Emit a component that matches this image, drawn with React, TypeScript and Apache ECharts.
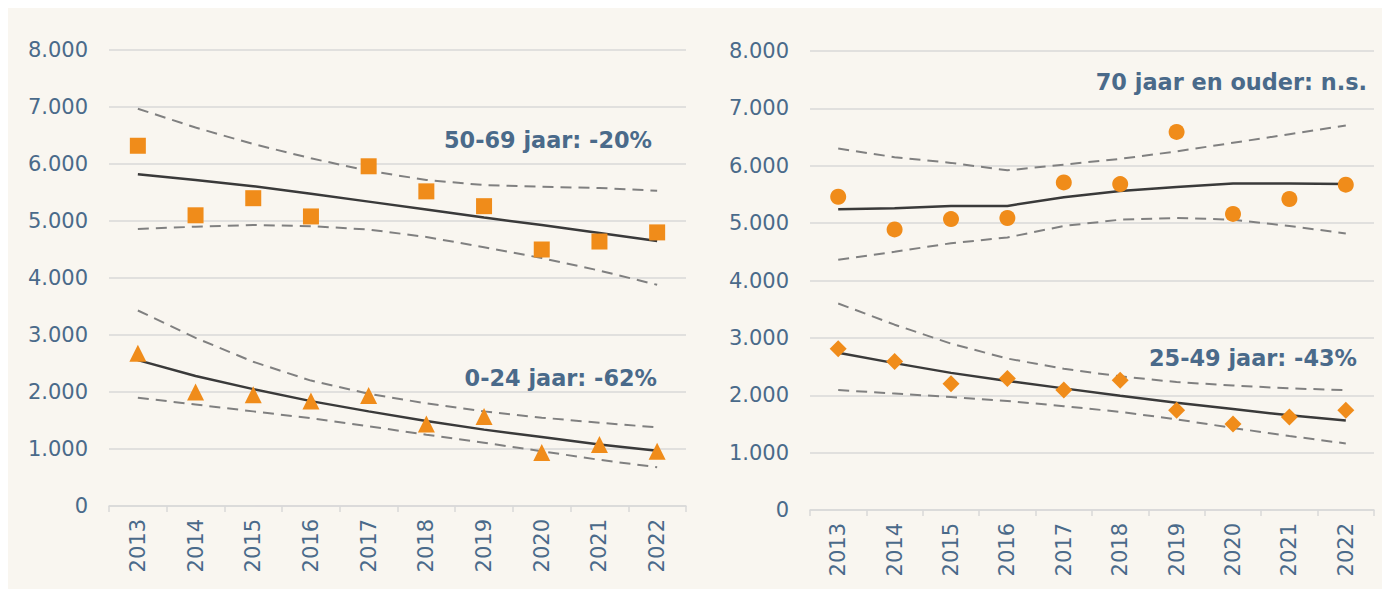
import React, { useEffect, useRef } from "react";
import * as echarts from "echarts";

const years = ["2013", "2014", "2015", "2016", "2017", "2018", "2019", "2020", "2021", "2022"];

// Left panel
const age5069 = [6320, 5100, 5400, 5080, 5960, 5520, 5260, 4500, 4640, 4800];
const age5069Trend = [5820, 5720, 5610, 5480, 5340, 5200, 5060, 4930, 4790, 4650];
const age5069Upper = [6970, 6640, 6350, 6100, 5880, 5720, 5630, 5600, 5580, 5530];
const age5069Lower = [4860, 4900, 4930, 4910, 4850, 4720, 4540, 4350, 4130, 3880];

const age024 = [2680, 2000, 1950, 1840, 1940, 1440, 1570, 940, 1080, 960];
const age024Trend = [2560, 2280, 2050, 1840, 1660, 1490, 1340, 1210, 1080, 970];
const age024Upper = [3430, 2950, 2530, 2200, 1970, 1800, 1660, 1550, 1460, 1380];
const age024Lower = [1900, 1780, 1660, 1540, 1400, 1250, 1110, 960, 810, 680];

// Right panel
const age70 = [5460, 4890, 5070, 5090, 5710, 5680, 6590, 5160, 5420, 5670];
const age70Trend = [5240, 5260, 5300, 5300, 5450, 5560, 5630, 5690, 5690, 5680];
const age70Upper = [6300, 6150, 6050, 5920, 6020, 6120, 6250, 6400, 6550, 6700];
const age70Lower = [4360, 4500, 4650, 4750, 4950, 5060, 5090, 5060, 4950, 4820];

const age2549 = [2810, 2590, 2200, 2290, 2090, 2260, 1740, 1500, 1620, 1740];
const age2549Trend = [2740, 2560, 2390, 2250, 2120, 1990, 1870, 1760, 1650, 1560];
const age2549Upper = [3600, 3230, 2900, 2640, 2460, 2330, 2230, 2170, 2120, 2090];
const age2549Lower = [2090, 2030, 1970, 1900, 1810, 1710, 1580, 1430, 1290, 1160];

const labels = [
  { text: "50-69 jaar: -20%", x: 644, y: 132 },
  { text: "0-24 jaar: -62%", x: 649, y: 370 },
  { text: "70 jaar en ouder: n.s.", x: 1359, y: 74 },
  { text: "25-49 jaar: -43%", x: 1349, y: 350 },
];

const FONT = "DejaVu Sans";
const TEXT = "#4a6a8a";
const ORANGE = "#f08c1a";
const GRID = "#d9d9d9";

function fmt(v: number) {
  if (v === 0) return "0";
  return (v / 1000).toFixed(0) + ".000";
}

export default function App() {
  const ref = useRef<HTMLDivElement>(null);
  useEffect(() => {
    document.body.style.overflow = "hidden";
    const chart = echarts.init(ref.current!, null, { renderer: "svg" });
    const xAxis = (gi: number) => ({
      type: "category",
      gridIndex: gi,
      data: years,
      boundaryGap: true,
      axisLine: { lineStyle: { color: GRID, width: 1.5 } },
      axisTick: { show: true, length: 6, lineStyle: { color: GRID, width: 1.5 } },
      axisLabel: { rotate: 90, margin: 13, color: TEXT, fontSize: 21, fontFamily: FONT },
    });
    const yAxis = (gi: number) => ({
      type: "value",
      gridIndex: gi,
      min: 0,
      max: 8000,
      interval: 1000,
      axisLine: { show: false },
      axisTick: { show: false },
      splitLine: { lineStyle: { color: GRID, width: 1.5 } },
      axisLabel: { margin: 21, color: TEXT, fontSize: 21, fontFamily: FONT, formatter: fmt },
    });
    const trend = (data: number[], gi: number) => ({
      type: "line", xAxisIndex: gi, yAxisIndex: gi, data, symbol: "none",
      lineStyle: { color: "#3a3a3a", width: 2.5 }, z: 3,
    });
    const band = (data: number[], gi: number) => ({
      type: "line", xAxisIndex: gi, yAxisIndex: gi, data, symbol: "none",
      lineStyle: { color: "#808080", width: 2, type: [11, 7] }, z: 2,
    });
    const scatter = (data: number[], gi: number, symbol: string, size: number) => ({
      type: "scatter", xAxisIndex: gi, yAxisIndex: gi, data, symbol, symbolSize: size,
      itemStyle: { color: ORANGE, opacity: 1 }, z: 4,
    });
    chart.setOption({
      animation: false,
      backgroundColor: "#f9f6f0",
      textStyle: { fontFamily: FONT },
      grid: [
        { left: 101, right: 704, top: 42, bottom: 83 },
        { left: 802, right: 16, top: 43, bottom: 79 },
      ],
      xAxis: [xAxis(0), xAxis(1)],
      yAxis: [yAxis(0), yAxis(1)],
      series: [
        band(age5069Upper, 0), band(age5069Lower, 0), trend(age5069Trend, 0),
        scatter(age5069, 0, "rect", 16),
        band(age024Upper, 0), band(age024Lower, 0), trend(age024Trend, 0),
        scatter(age024, 0, "triangle", 17),
        band(age70Upper, 1), band(age70Lower, 1), trend(age70Trend, 1),
        scatter(age70, 1, "circle", 16),
        band(age2549Upper, 1), band(age2549Lower, 1), trend(age2549Trend, 1),
        scatter(age2549, 1, "diamond", 17),
      ],
      graphic: labels.map((l) => ({
        type: "text",
        x: l.x,
        y: l.y,
        style: {
          text: l.text,
          fill: TEXT,
          fontFamily: FONT,
          fontSize: 22.4,
          fontWeight: "bold",
          textAlign: "right",
          textVerticalAlign: "middle",
        },
        z: 10,
      })),
    });
    return () => chart.dispose();
  }, []);
  return <div ref={ref} style={{ width: 1382, height: 581 }} />;
}
